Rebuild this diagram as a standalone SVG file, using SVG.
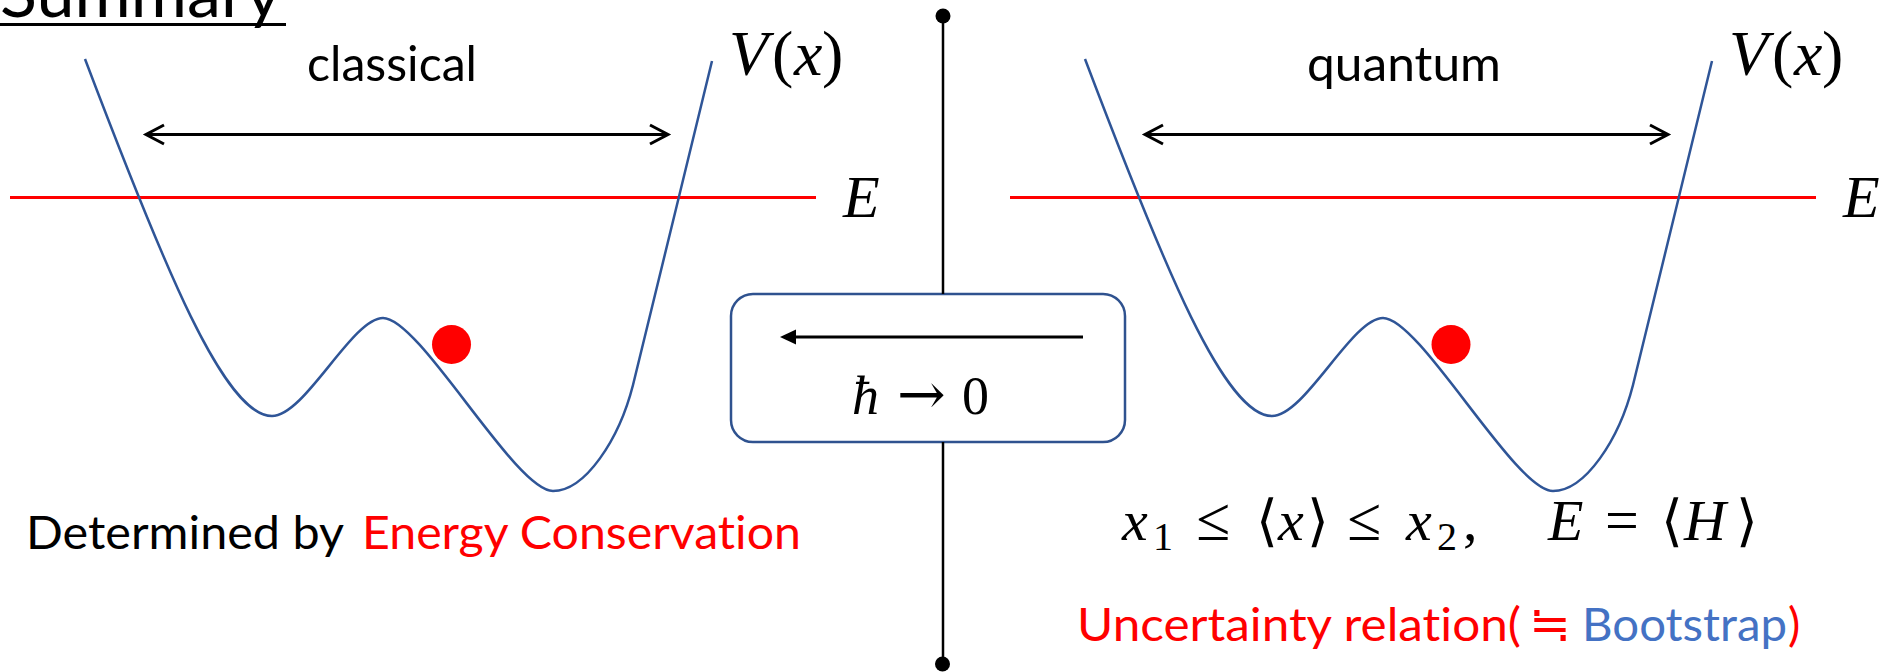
<svg xmlns="http://www.w3.org/2000/svg" width="1889" height="672" viewBox="0 0 1889 672">
<style>
.sans{font-family:Lato,"Noto Sans",sans-serif;font-variant-ligatures:none}
.ser{font-family:"Liberation Serif","DejaVu Serif",serif}
.it{font-style:italic}
.br{font-family:"DejaVu Serif",serif;font-size:56px}
.curve{fill:none;stroke:#2F5597;stroke-width:2.5}
.eline{stroke:#FF0000;stroke-width:3}
.darr{stroke:#000;stroke-width:3;fill:none}
.ball{fill:#FF0000}
.red{fill:#FF0000}
.blue{fill:#4472C4}
</style>
<defs>
<path id="well" d="M85,59 C165,270 225,416 272,416 C305,416 352,318 383,318 C420,318 515,491 553,491 C585,491 619,440 633,385 C647,330 690,150 712,61"/>
</defs>
<rect width="1889" height="672" fill="#fff"/>

<g id="title">
<text class="sans" x="0" y="17" font-size="66" textLength="281" lengthAdjust="spacingAndGlyphs">Summary</text>
<line x1="0" y1="24.5" x2="286" y2="24.5" stroke="#000" stroke-width="3"/>
</g>

<g id="classical-panel">
<text class="sans" x="307" y="81" font-size="48" textLength="170" lengthAdjust="spacingAndGlyphs">classical</text>
<path class="darr" d="M146,134.5 H668 M164,125 L146,134.5 L164,144 M650,125 L668,134.5 L650,144"/>
<line class="eline" x1="10" y1="197.5" x2="816" y2="197.5"/>
<use href="#well" class="curve"/>
<circle class="ball" cx="451.5" cy="344.5" r="19.5"/>
<text class="ser" x="729" y="75" font-size="64"><tspan class="it">V</tspan><tspan x="772">(</tspan><tspan class="it" x="794">x</tspan><tspan x="822">)</tspan></text>
<text class="ser it" x="843" y="217" font-size="60">E</text>
<text class="sans" x="26" y="549" font-size="46" textLength="318" lengthAdjust="spacingAndGlyphs">Determined by</text>
<text class="sans red" x="362" y="549" font-size="46" textLength="439" lengthAdjust="spacingAndGlyphs">Energy Conservation</text>
</g>

<g id="quantum-panel">
<text class="sans" x="1307" y="81" font-size="48" textLength="194" lengthAdjust="spacingAndGlyphs">quantum</text>
<path class="darr" d="M1145,134.5 H1668 M1163,125 L1145,134.5 L1163,144 M1650,125 L1668,134.5 L1650,144"/>
<line class="eline" x1="1010" y1="197.5" x2="1816" y2="197.5"/>
<use href="#well" class="curve" transform="translate(1000,0)"/>
<circle class="ball" cx="1451" cy="344.5" r="19.5"/>
<text class="ser" x="1729" y="75" font-size="64"><tspan class="it">V</tspan><tspan x="1772">(</tspan><tspan class="it" x="1794">x</tspan><tspan x="1822">)</tspan></text>
<text class="ser it" x="1843" y="217" font-size="60">E</text>
<text class="ser" y="540" font-size="58"><tspan class="it" x="1122">x</tspan><tspan x="1153" y="550" font-size="40">1</tspan><tspan x="1196" y="540" font-size="62">≤</tspan><tspan class="br" x="1256">⟨</tspan><tspan class="it" x="1278">x</tspan><tspan class="br" x="1307">⟩</tspan><tspan x="1347" font-size="62">≤</tspan><tspan class="it" x="1406">x</tspan><tspan x="1437" y="550" font-size="40">2</tspan><tspan x="1463" y="540">,</tspan><tspan class="it" x="1548">E</tspan><tspan x="1605" font-size="60">=</tspan><tspan class="br" x="1661">⟨</tspan><tspan class="it" x="1684">H</tspan><tspan class="br" x="1736">⟩</tspan></text>
<text class="sans red" x="1077" y="641" font-size="46" textLength="444" lengthAdjust="spacingAndGlyphs">Uncertainty relation(</text>
<text class="red" x="1529" y="641" font-size="50" font-family="'Noto Sans CJK JP',sans-serif">≒</text>
<text class="sans blue" x="1582" y="641" font-size="46" textLength="205" lengthAdjust="spacingAndGlyphs">Bootstrap</text>
<text class="sans red" x="1788" y="641" font-size="46">)</text>
</g>

<g id="limit-box">
<rect x="731" y="294" width="394" height="148" rx="22" ry="22" fill="#fff" stroke="#2F528F" stroke-width="2.5"/>
<line x1="1083" y1="337" x2="792" y2="337" stroke="#000" stroke-width="3"/>
<polygon points="780,337 796,329.5 796,344.5" fill="#000"/>
<text class="ser" y="414" font-size="54"><tspan class="it" x="852">ħ</tspan><tspan x="897" font-family="DejaVu Serif" font-size="58">→</tspan><tspan x="962">0</tspan></text>
</g>

<g id="connectors">
<line x1="943" y1="16" x2="943" y2="294" stroke="#000" stroke-width="2.5"/>
<line x1="943" y1="442" x2="943" y2="664" stroke="#000" stroke-width="2.5"/>
<ellipse cx="943" cy="16" rx="7.5" ry="7.5"/>
<ellipse cx="942.5" cy="664" rx="7.5" ry="7.5"/>
</g>
</svg>
